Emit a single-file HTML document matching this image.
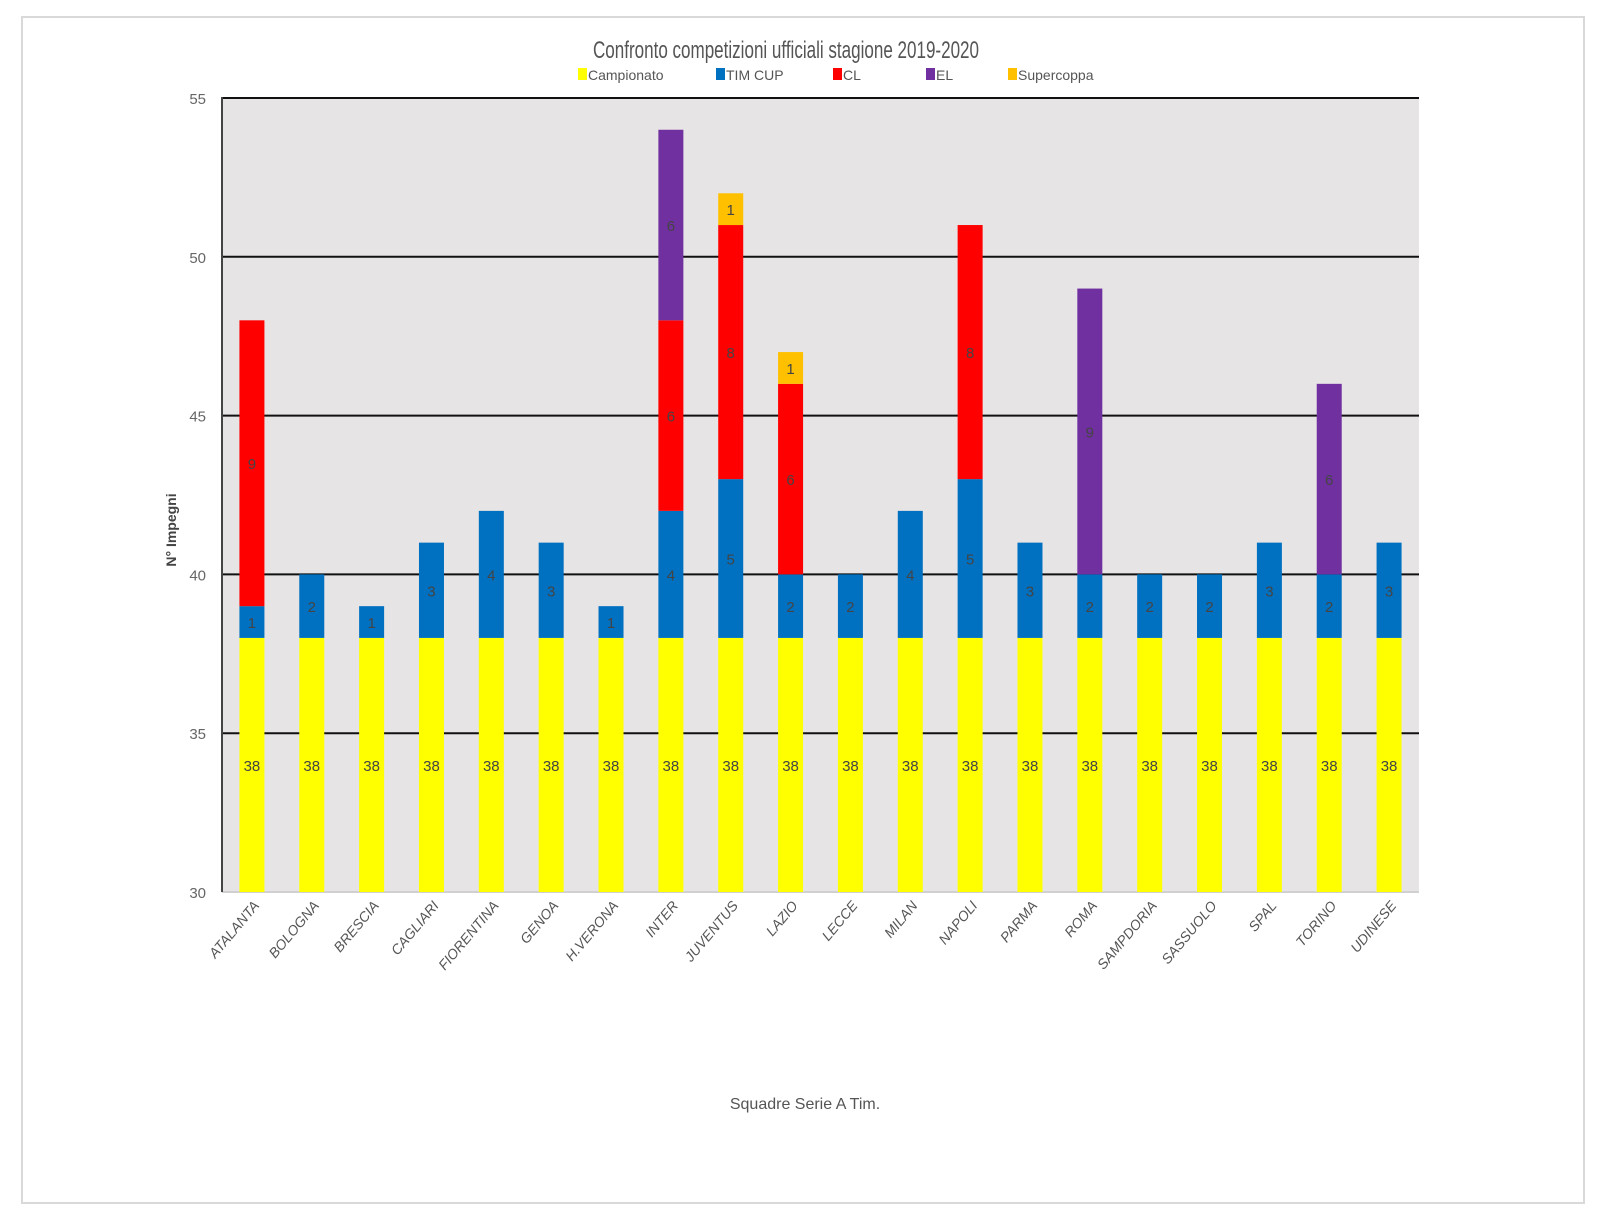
<!DOCTYPE html>
<html><head><meta charset="utf-8"><style>
body{margin:0;background:#fff;}
svg{display:block;font-family:"Liberation Sans Narrow","Liberation Sans",sans-serif;}
</style></head><body>
<svg width="1606" height="1224" viewBox="0 0 1606 1224">
<rect x="22" y="17" width="1562" height="1186" fill="#fff" stroke="#d9d9d9" stroke-width="2"/>
<rect x="222" y="98" width="1197" height="794" fill="#e7e4e5"/>
<text x="786" y="58" text-anchor="middle" font-size="24" fill="#555" textLength="386" lengthAdjust="spacingAndGlyphs">Confronto competizioni ufficiali stagione 2019-2020</text>
<g id="legend"></g>
<g id="grid"></g>
<g id="bars"></g>
<g id="xlabels"></g>
<line x1="222" y1="97" x2="222" y2="892" stroke="#444" stroke-width="2"/>
<text x="176" y="530" text-anchor="middle" font-size="14" font-weight="bold" fill="#444" transform="rotate(-90 176 530)" font-family="Liberation Sans, sans-serif">N° Impegni</text>
<text x="805" y="1109" text-anchor="middle" font-size="16" fill="#555">Squadre Serie A Tim.</text>
</svg>
<script>
const teams=["ATALANTA","BOLOGNA","BRESCIA","CAGLIARI","FIORENTINA","GENOA","H.VERONA","INTER","JUVENTUS","LAZIO","LECCE","MILAN","NAPOLI","PARMA","ROMA","SAMPDORIA","SASSUOLO","SPAL","TORINO","UDINESE"];
const campionato=[38,38,38,38,38,38,38,38,38,38,38,38,38,38,38,38,38,38,38,38];
const timCup=[1,2,1,3,4,3,1,4,5,2,2,4,5,3,2,2,2,3,2,3];
const cl=[9,0,0,0,0,0,0,6,8,6,0,0,8,0,0,0,0,0,0,0];
const el=[0,0,0,0,0,0,0,6,0,0,0,0,0,0,9,0,0,0,6,0];
const supercoppa=[0,0,0,0,0,0,0,0,1,1,0,0,0,0,0,0,0,0,0,0];
const yTicks=[30,35,40,45,50,55];
const seriesNames=["Campionato","TIM CUP","CL","EL","Supercoppa"];
const seriesColors=["#ffff00","#0070c0","#ff0000","#7030a0","#ffc000"];
const NS="http://www.w3.org/2000/svg";
const X0=222,X1=1419,Y0=892,Y1=98,YMIN=30,YMAX=55;
const bw=(X1-X0)/teams.length;
function y(v){return Y0-(v-YMIN)/(YMAX-YMIN)*(Y0-Y1);}
function xc(i){return X0+bw*(i+0.5);}
function mk(tag,attrs,parent){const e=document.createElementNS(NS,tag);for(const k in attrs)e.setAttribute(k,attrs[k]);parent.appendChild(e);return e;}
const grid=document.getElementById('grid');
yTicks.forEach(t=>{
  const l=mk('line',{x1:X0,x2:X1,y1:y(t),y2:y(t),stroke:t===YMIN?'#d0d0d0':'#111','stroke-width':2},grid);
  
  
  const tx=mk('text',{x:X0-16,y:y(t)+6,'text-anchor':'end','font-size':15,fill:'#666'},grid);
  tx.textContent=t;
  
  
});
const legend=document.getElementById('legend');
const lx=[578,716,833,926,1008];
seriesNames.forEach((n,k)=>{
  const r=mk('rect',{x:lx[k],y:68,width:9,height:12,fill:seriesColors[k]},legend);
  
  
  const t=mk('text',{x:lx[k]+10,y:80,'font-size':14,fill:'#555'},legend);
  t.textContent=n;
  
  
});
const bars=document.getElementById('bars');
const series=[campionato,timCup,cl,el,supercoppa];
teams.forEach((team,i)=>{
  let base=0;
  series.forEach((s,k)=>{
    const v=s[i]; if(!v) return;
    const lo=Math.max(base,YMIN), hi=base+v;
    const top=y(hi), bot=y(lo);
    const r=mk('rect',{x:xc(i)-12.5,y:top,width:25,height:bot-top,fill:seriesColors[k]},bars);
    
    
    const t=mk('text',{x:xc(i),y:(top+bot)/2+6,'text-anchor':'middle','font-size':15,fill:'#444'},bars);
    t.textContent=v;
    
    
    base=hi;
  });
});
const xl=document.getElementById('xlabels');
teams.forEach((team,i)=>{
  const ax=xc(i)+8, ay=906;
  const t=mk('text',{x:ax,y:ay,'text-anchor':'end','font-size':14,'font-style':'italic',fill:'#555',transform:'rotate(-50 '+ax+' '+ay+')'},xl);
  t.textContent=team;
  
  
});
</script>
</body></html>
